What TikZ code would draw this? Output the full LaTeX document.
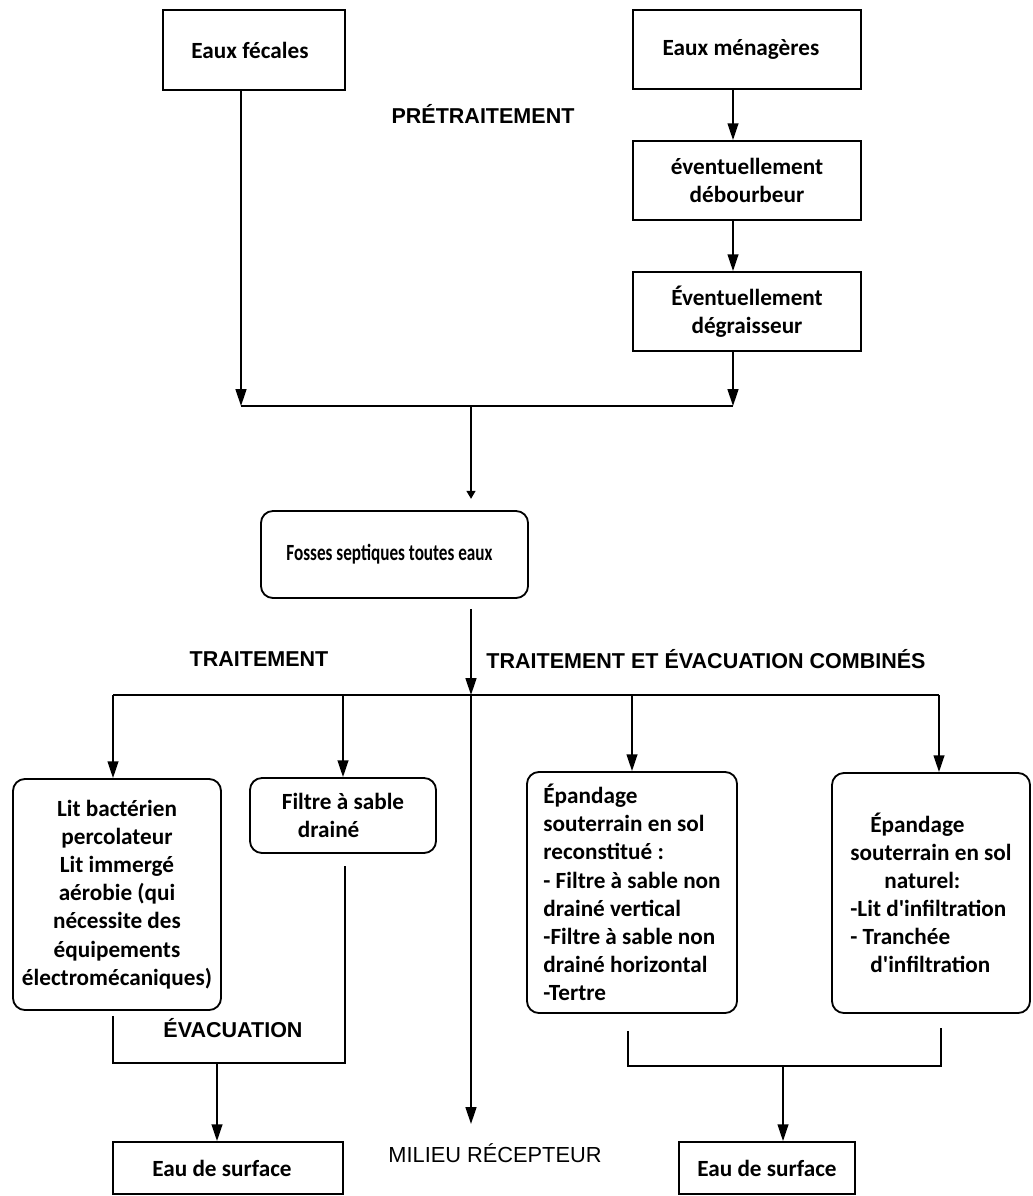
\documentclass[tikz,border=0pt]{standalone}
\usepackage{fontspec}
\usepackage{tikz}
\usetikzlibrary{arrows.meta}
\newfontfamily\calib{Carlito}
\newfontfamily\calibn[FakeStretch=0.74]{Carlito}
\newfontfamily\arialf{Liberation Sans}
\newcommand\boxfont{\calib\bfseries\fontsize{16.5}{20}\selectfont}
\newcommand\headfont{\arialf\bfseries\fontsize{15.3}{18}\selectfont}
\tikzset{box/.style={draw, line width=1.3pt, font=\boxfont, align=center, inner sep=2pt}}
\tikzset{rbox/.style={box, rounded corners=0.3cm}}
\tikzset{head/.style={font=\headfont}}
\tikzset{line/.style={line width=1.3pt}}
\tikzset{arr/.style={line, -{Triangle[length=0.42cm,width=0.27cm]}}}

\begin{document}
\begin{tikzpicture}[x=0.025cm, y=-0.025cm]
  \useasboundingbox (0,0) rectangle (1032,1196);

  \node[box, minimum width=4.55cm, minimum height=2cm] (fec) at (254,50) {Eaux fécales\hspace*{0.2cm}};
  \node[box, minimum width=5.7cm, minimum height=1.975cm] (men) at (747,49.5) {Eaux ménagères\hspace*{0.3cm}};
  \node[box, minimum width=5.7cm, minimum height=1.975cm] (deb) at (747,180.5) {éventuellement\\débourbeur};
  \node[box, minimum width=5.7cm, minimum height=1.975cm] (deg) at (747,311.5) {Éventuellement\\dégraisseur};
  \node[head] (pre) at (483,114) {PRÉTRAITEMENT};

  \node[rbox, minimum width=6.675cm, minimum height=2.175cm] (fos) at (394.5,554.5)
    {\calibn\bfseries Fosses septiques toutes eaux\hspace*{0.25cm}};

  \node[head] (tra) at (259,659) {TRAITEMENT};
  \node[head] (tec) at (706,659) {TRAITEMENT ET ÉVACUATION COMBINÉS};

  \node[rbox, minimum width=5.2cm, minimum height=5.775cm] (lit) at (117,894.5)
    {Lit bactérien\\percolateur\\Lit immergé\\aérobie (qui\\nécessite des\\équipements\\électromécaniques)};
  \node[rbox, align=left, minimum width=4.65cm, minimum height=1.875cm] (fil) at (343,815.5)
    {Filtre à sable\\\hspace*{0.4cm}drainé};
  \node[rbox, align=left, minimum width=5.25cm, minimum height=6.025cm] (epr) at (632,892.5)
    {Épandage\\souterrain en sol\\reconstitué :\\- Filtre à sable non\\drainé vertical\\-Filtre à sable non\\drainé horizontal\\-Tertre};
  \node[rbox, align=left, minimum width=4.95cm, minimum height=6cm] (epn) at (931,893)
    {\hspace*{0.5cm}Épandage\\souterrain en sol\\\hspace*{0.85cm}naturel:\\-Lit d'infiltration\\- Tranchée\\\hspace*{0.5cm}d'infiltration};

  \node[head] (eva) at (233,1028) {ÉVACUATION};
  \node[font=\arialf\fontsize{15.5}{18}\selectfont] (mil) at (495,1153) {MILIEU RÉCEPTEUR};
  \node[box, minimum width=5.75cm, minimum height=1.3cm] (ls) at (228,1168) {Eau de surface\hspace*{0.3cm}};
  \node[box, minimum width=4.4cm, minimum height=1.3cm] (rs) at (767,1168) {Eau de surface};

  % pretraitement
  \coordinate (lx) at (241,406);
  \coordinate (rx) at (733,406);
  \coordinate (mx) at (471,406);
  \draw[arr] (fec.south -| lx) -- (lx);
  \draw[arr] (men.south -| rx) -- (deb.north -| rx);
  \draw[arr] (deb.south -| rx) -- (deg.north -| rx);
  \draw[arr] (deg.south -| rx) -- (rx);
  \draw[line] (lx) -- (rx);
  \draw[line, -{Triangle[length=0.2cm,width=0.22cm]}, shorten >=0.28cm] (mx) -- (fos.north -| mx);

  % traitement
  \coordinate (bl) at (113,695);
  \coordinate (br) at (939,695);
  \coordinate (bm) at (471,695);
  \coordinate (me) at (471,1124);
  \draw[arr] ([yshift=-0.25cm]fos.south -| bm) -- (bm);
  \draw[arr] (bm) -- (me);
  \draw[line] (bl) -- (br);
  \draw[arr] (bl) -- (lit.north -| bl);
  \draw[arr] (fil.north |- bl) -- (fil.north);
  \draw[arr] (epr.north |- bl) -- (epr.north);
  \draw[arr] (br) -- (epn.north -| br);

  % evacuation
  \coordinate (el) at (113,1063);
  \coordinate (er) at (345,1063);
  \coordinate (ea) at (217,1063);
  \draw[line] ([yshift=-0.125cm]lit.south -| el) -- (el) -- (er) -- ([yshift=-0.3cm]fil.south -| er);
  \draw[arr] (ea) -- (ea |- ls.north);
  \coordinate (fl) at (628,1066);
  \coordinate (fr) at (941,1066);
  \coordinate (fa) at (783,1066);
  \draw[line] ([yshift=-0.425cm]epr.south -| fl) -- (fl) -- (fr) -- ([yshift=-0.35cm]epn.south -| fr);
  \draw[arr] (fa) -- (fa |- rs.north);
\end{tikzpicture}
\end{document}
